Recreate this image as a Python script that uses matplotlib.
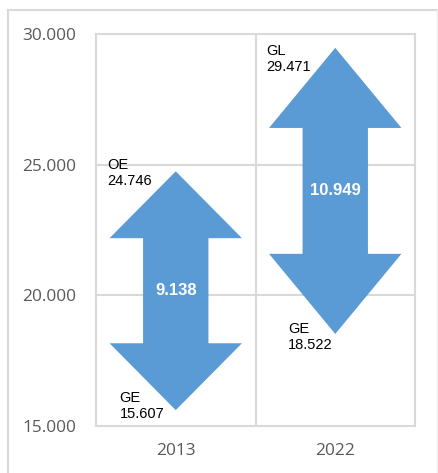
import matplotlib.pyplot as plt
from matplotlib.patches import Polygon
from matplotlib.lines import Line2D

# data
years = ['2013', '2022']
low_labels = ['GE', 'GE']
low_values = [15.607, 18.522]
high_labels = ['OE', 'GL']
high_values = [24.746, 29.471]
diff_values = [9.138, 10.949]

arrow_color = '#5B9BD5'
grid_color = '#D9D9D9'
tick_color = '#595959'

fig = plt.figure(figsize=(4.38, 4.73), dpi=100)
ax = fig.add_axes([96 / 438, 47 / 473, 319 / 438, 392 / 473])

ax.set_xlim(-0.5, 1.5)
ax.set_ylim(15, 30)

# grid: horizontal at each major tick, vertical between categories
for v in [20, 25]:
    ax.axhline(v, color=grid_color, lw=1.5, zorder=0)
ax.axvline(0.5, color=grid_color, lw=1.5, zorder=0)
for s in ax.spines.values():
    s.set_color(grid_color)
    s.set_linewidth(1.5)

head_half = 0.415
shaft_half = 0.205
head_frac = 0.28

for i, (lo, hi) in enumerate(zip(low_values, high_values)):
    h = head_frac * (hi - lo)
    pts = [
        (i, hi), (i + head_half, hi - h), (i + shaft_half, hi - h),
        (i + shaft_half, lo + h), (i + head_half, lo + h), (i, lo),
        (i - head_half, lo + h), (i - shaft_half, lo + h),
        (i - shaft_half, hi - h), (i - head_half, hi - h),
    ]
    ax.add_patch(Polygon(pts, closed=True, facecolor=arrow_color,
                         edgecolor='none', zorder=2))
    ax.text(i, (lo + hi) / 2, f'{diff_values[i]:.3f}', color='white',
            fontsize=12, fontweight='bold', family='Liberation Sans',
            ha='center', va='center', zorder=3)

# endpoint labels, offsets in pixels from the arrow tips
high_offsets = [(-68, -2), (-69, -11)]
low_offsets = [(-56, 4), (-47, -3)]
for i in range(len(years)):
    ax.annotate(f'{high_labels[i]}\n{high_values[i]:.3f}', xy=(i, high_values[i]),
                xytext=high_offsets[i], textcoords='offset pixels',
                ha='left', va='center', fontsize=10.5, family='Liberation Sans',
                linespacing=1.15, color='black', zorder=4)
    ax.annotate(f'{low_labels[i]}\n{low_values[i]:.3f}', xy=(i, low_values[i]),
                xytext=low_offsets[i], textcoords='offset pixels',
                ha='left', va='center', fontsize=10.5, family='Liberation Sans',
                linespacing=1.15, color='black', zorder=4)

ax.set_yticks([15, 20, 25, 30])
ax.set_yticklabels([f'{v:.3f}' for v in [15, 20, 25, 30]])
ax.set_xticks(range(len(years)))
ax.set_xticklabels(years)
ax.tick_params(length=0, colors=tick_color, labelsize=12.4)
ax.tick_params(axis='y', pad=14)
ax.tick_params(axis='x', pad=12)
for lab in ax.get_xticklabels() + ax.get_yticklabels():
    lab.set_family('Open Sans')

# outer chart frame
fig.add_artist(Line2D([8 / 438, 8 / 438], [0, 1 - 10 / 473],
                      transform=fig.transFigure, color=grid_color, lw=1.5))
fig.add_artist(Line2D([8 / 438, 437 / 438], [1 - 10 / 473, 1 - 10 / 473],
                      transform=fig.transFigure, color=grid_color, lw=1.5))
fig.add_artist(Line2D([437 / 438, 437 / 438], [0, 1 - 10 / 473],
                      transform=fig.transFigure, color='#EEEEEE', lw=1))

fig.savefig('out.png', dpi=100)
